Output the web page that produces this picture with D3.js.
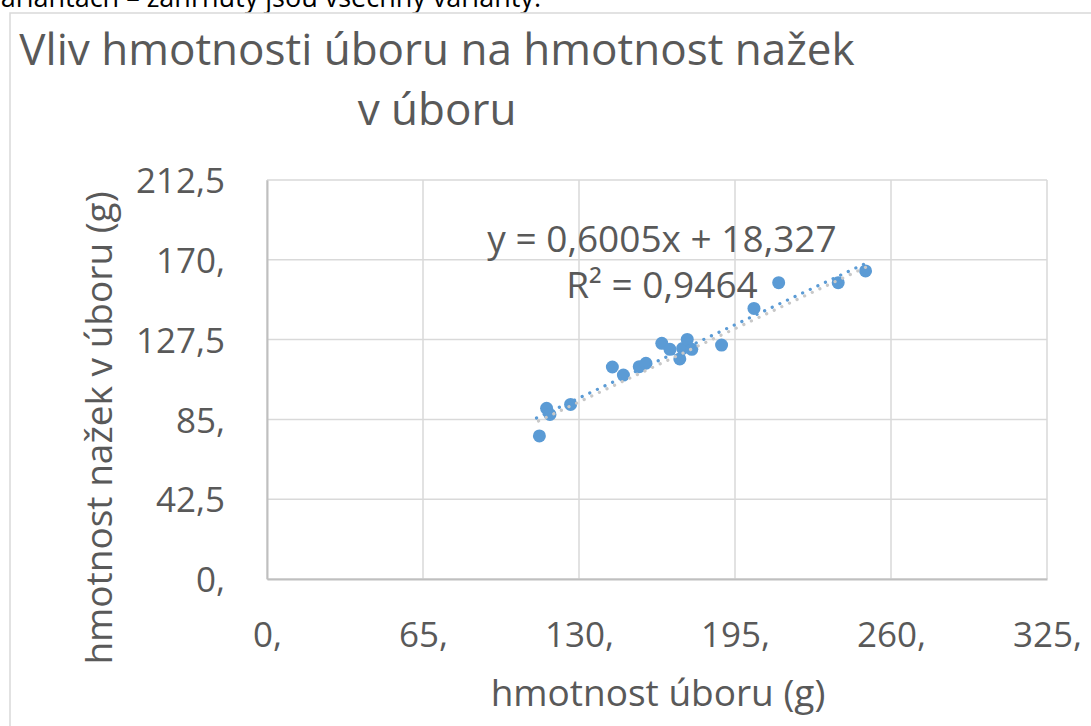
<!DOCTYPE html>
<html>
<head>
<meta charset="utf-8">
<script src="https://cdn.jsdelivr.net/npm/d3@7"></script>
<style>
  html, body { margin: 0; padding: 0; background: #fff; overflow: hidden; }
  svg { display: block; }
  text { font-family: "Open Sans", "Noto Sans", sans-serif; }
</style>
</head>
<body>
<svg id="chart" width="1091" height="726"></svg>
<script>
// ---- data ----
const massHead = [113.5, 116.5, 117.9, 126.5, 143.9, 148.5, 155.1, 157.9, 164.5, 167.9,
                  172.0, 173.2, 175.1, 177.0, 189.4, 202.9, 213.2, 238.0, 249.4];
const massAchenes = [76.2, 90.9, 87.6, 93.0, 112.9, 108.6, 113.1, 114.9, 125.5, 122.3,
                     117.2, 122.8, 127.6, 122.3, 124.6, 144.1, 157.8, 157.8, 164.1];
const xTicks = [0, 65, 130, 195, 260, 325];
const xTickLabels = ["0,", "65,", "130,", "195,", "260,", "325,"];
const yTicks = [0, 42.5, 85, 127.5, 170, 212.5];
const yTickLabels = ["0,", "42,5", "85,", "127,5", "170,", "212,5"];
const slope = 0.6005;
const intercept = 18.327;
const eqText = "y = 0,6005x + 18,327";
const r2Text = "R² = 0,9464";
const titleLines = ["Vliv hmotnosti úboru na hmotnost nažek", "v úboru"];
const xTitle = "hmotnost úboru (g)";
const yTitle = "hmotnost nažek v úboru (g)";
const topText = "variantách – zahrnuty jsou všechny varianty.";

// ---- layout ----
const svg = d3.select("#chart");
const plot = { left: 267, right: 1047, top: 180, bottom: 579 };
const x = d3.scaleLinear().domain([0, 325]).range([plot.left, plot.right]);
const y = d3.scaleLinear().domain([0, 212.5]).range([plot.bottom, plot.top]);
const blue = "#5B9BD5";
const grid = "#d9d9d9";
const txt = "#595959";

// clipped document text above the chart (cut off at the top edge, as in the source)
svg.append("text").attr("x", 541).attr("y", 7).attr("text-anchor", "end")
  .attr("font-size", 27).attr("fill", "#000").text(topText);

// chart frame
svg.append("rect").attr("x", 10).attr("y", 13).attr("width", 1200).attr("height", 800)
  .attr("fill", "#fff").attr("stroke", grid).attr("stroke-width", 1.5);

// title
svg.append("text").attr("x", 437).attr("y", 65).attr("text-anchor", "middle")
  .attr("font-size", 44).attr("fill", txt).text(titleLines[0]);
svg.append("text").attr("x", 437).attr("y", 125).attr("text-anchor", "middle")
  .attr("font-size", 44).attr("fill", txt).text(titleLines[1]);

// gridlines
const g = svg.append("g");
g.selectAll(".vg").data(xTicks).join("line")
  .attr("x1", d => x(d)).attr("x2", d => x(d))
  .attr("y1", plot.top).attr("y2", plot.bottom)
  .attr("stroke", grid).attr("stroke-width", 1.5);
g.selectAll(".hg").data(yTicks).join("line")
  .attr("x1", plot.left).attr("x2", plot.right)
  .attr("y1", d => y(d)).attr("y2", d => y(d))
  .attr("stroke", grid).attr("stroke-width", 1.5);

// axes
const xAxis = d3.axisBottom(x).tickValues(xTicks).tickSize(0)
  .tickFormat((d, i) => xTickLabels[i]);
const yAxis = d3.axisLeft(y).tickValues(yTicks).tickSize(0)
  .tickFormat((d, i) => yTickLabels[i]);

const gx = svg.append("g").attr("transform", `translate(0,${plot.bottom})`).call(xAxis);
gx.select(".domain").attr("stroke", "#bfbfbf").attr("stroke-width", 2);
gx.selectAll("text").attr("font-size", 35).attr("fill", txt)
  .attr("font-family", "Open Sans, sans-serif").attr("dy", null).attr("y", 68);

const gy = svg.append("g").attr("transform", `translate(${plot.left},0)`).call(yAxis);
gy.select(".domain").attr("stroke", "#bfbfbf").attr("stroke-width", 2);
gy.selectAll("text").attr("font-size", 35).attr("fill", txt)
  .attr("font-family", "Open Sans, sans-serif").attr("x", -42).attr("dy", "0.36em");

// axis titles
svg.append("text").attr("x", 658).attr("y", 706).attr("text-anchor", "middle")
  .attr("font-size", 37).attr("fill", txt).text(xTitle);
svg.append("text").attr("transform", "translate(112,428) rotate(-90)")
  .attr("text-anchor", "middle").attr("font-size", 37).attr("fill", txt).text(yTitle);

// points
svg.append("g").selectAll("circle").data(massHead).join("circle")
  .attr("cx", d => x(d)).attr("cy", (d, i) => y(massAchenes[i]))
  .attr("r", 6.5).attr("fill", blue);

// trendline (with shadow)
const xMin = d3.min(massHead) - 1.2, xMax = d3.max(massHead) + 0.4;
const trend = [xMin, xMax].map(v => [x(v), y(slope * v + intercept)]);
const lineGen = d3.line();
svg.append("path").attr("d", lineGen(trend)).attr("transform", "translate(2,3)")
  .attr("fill", "none").attr("stroke", "#c8c8c8").attr("stroke-width", 3.2)
  .attr("stroke-linecap", "round").attr("stroke-dasharray", "0.1 8.3");
svg.append("path").attr("d", lineGen(trend))
  .attr("fill", "none").attr("stroke", blue).attr("stroke-width", 3.2)
  .attr("stroke-linecap", "round").attr("stroke-dasharray", "0.1 8.3");

// equation labels
svg.append("text").attr("x", 662).attr("y", 252).attr("text-anchor", "middle")
  .attr("font-size", 37).attr("fill", txt).text(eqText);
svg.append("text").attr("x", 662).attr("y", 298).attr("text-anchor", "middle")
  .attr("font-size", 37).attr("fill", txt).text(r2Text);
</script>
</body>
</html>
